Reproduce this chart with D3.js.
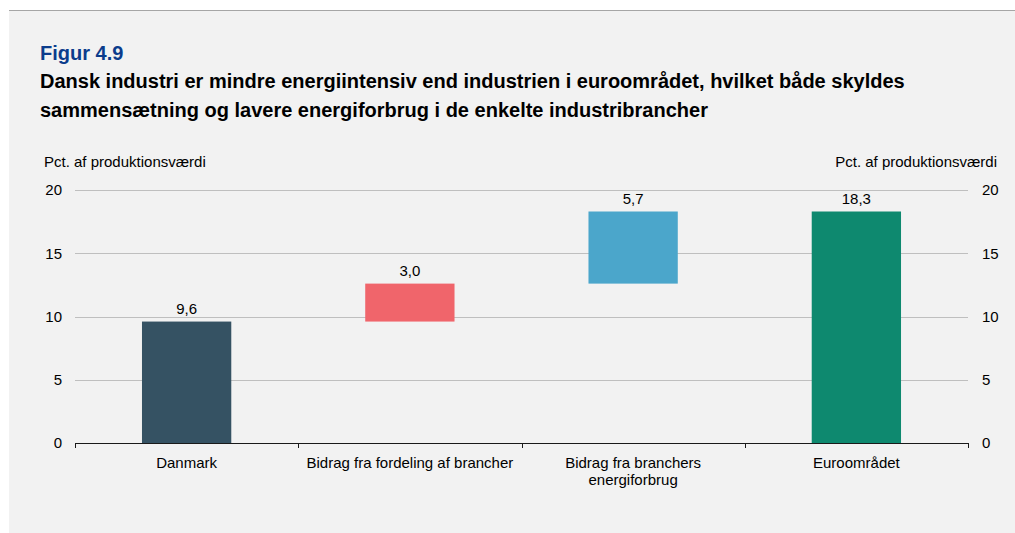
<!DOCTYPE html>
<html>
<head>
<meta charset="utf-8">
<script src="https://cdn.jsdelivr.net/npm/d3@7"></script>
<style>
  html, body { margin: 0; padding: 0; background: #ffffff; }
  svg { display: block; font-family: "Liberation Sans", Arial, sans-serif; }
</style>
</head>
<body>
<svg id="chart" width="1015" height="533"></svg>
<script>
// Waterfall: Danish industry energy intensity vs. euro area
const categories = ["Danmark", "Bidrag fra fordeling af brancher", "Bidrag fra branchers\nenergiforbrug", "Euroområdet"];
const values = [9.6, 3.0, 5.7, 18.3];
// "total" bars start from zero, "step" bars start where the previous one ended
const kinds = ["total", "step", "step", "total"];
const colors = ["#355263", "#f0656b", "#4ba6cb", "#0e896f"];
const yTicks = [0, 5, 10, 15, 20];
const unitLabel = "Pct. af produktionsværdi";
const figNumber = "Figur 4.9";
const titleLines = [
  "Dansk industri er mindre energiintensiv end industrien i euroområdet, hvilket både skyldes",
  "sammensætning og lavere energiforbrug i de enkelte industribrancher"
];

const svg = d3.select("#chart");

// panel background and top rule
svg.append("rect").attr("x", 9).attr("y", 10).attr("width", 1006).attr("height", 523).attr("fill", "#f2f2f2");
svg.append("line").attr("x1", 9).attr("x2", 1015).attr("y1", 10.5).attr("y2", 10.5)
  .attr("stroke", "#a6a6a6").attr("stroke-width", 1);

svg.append("text").attr("x", 40).attr("y", 60).attr("fill", "#0b3c8c")
  .attr("font-size", 20).attr("font-weight", "bold").text(figNumber);
titleLines.forEach((t, i) => {
  svg.append("text").attr("x", 40).attr("y", 88 + i * 28.5).attr("fill", "#000")
    .attr("font-size", 20).attr("font-weight", "bold").text(t);
});

const plotL = 75, plotR = 968, plotT = 190, plotB = 443;

const x = d3.scaleBand().domain(categories).range([plotL, plotR]).paddingInner(0.6).paddingOuter(0.3);
const xTickScale = d3.scaleBand().domain(categories).range([plotL, plotR]);
const y = d3.scaleLinear().domain([0, 20]).range([plotB, plotT]);

// compute waterfall spans
let running = 0;
const bars = categories.map((c, i) => {
  let y0, y1;
  if (kinds[i] === "total") { y0 = 0; y1 = values[i]; running = values[i]; }
  else { y0 = running; y1 = running + values[i]; running = y1; }
  return { c, v: values[i], y0, y1, color: colors[i] };
});

// gridlines
svg.append("g").selectAll("line").data(yTicks.filter(d => d !== 0)).join("line")
  .attr("x1", plotL).attr("x2", plotR)
  .attr("y1", d => Math.round(y(d)) + 0.5).attr("y2", d => Math.round(y(d)) + 0.5)
  .attr("stroke", "#bfbfbf").attr("stroke-width", 1);

// left and right tick labels
const fs = 15;
svg.append("g").selectAll("text").data(yTicks).join("text")
  .attr("x", 62).attr("y", d => y(d)).attr("dy", "0.35em").attr("text-anchor", "end")
  .attr("font-size", fs).attr("fill", "#000").text(d => d);
svg.append("g").selectAll("text").data(yTicks).join("text")
  .attr("x", 982).attr("y", d => y(d)).attr("dy", "0.35em").attr("text-anchor", "start")
  .attr("font-size", fs).attr("fill", "#000").text(d => d);

svg.append("text").attr("x", 44).attr("y", 167).attr("font-size", fs).attr("fill", "#000").text(unitLabel);
svg.append("text").attr("x", 997).attr("y", 167).attr("text-anchor", "end").attr("font-size", fs).attr("fill", "#000").text(unitLabel);

// bars
svg.append("g").selectAll("rect").data(bars).join("rect")
  .attr("x", d => x(d.c)).attr("width", x.bandwidth())
  .attr("y", d => y(d.y1)).attr("height", d => y(d.y0) - y(d.y1))
  .attr("fill", d => d.color);

// value labels
const fmt = v => d3.format(".1f")(v).replace(".", ",");
svg.append("g").selectAll("text").data(bars).join("text")
  .attr("x", d => x(d.c) + x.bandwidth() / 2).attr("y", d => y(d.y1) - 7.5)
  .attr("text-anchor", "middle").attr("font-size", fs).attr("fill", "#000")
  .text(d => fmt(d.v));

// x axis with category ticks at band edges
const axisG = svg.append("g");
axisG.append("line").attr("x1", plotL).attr("x2", plotR).attr("y1", plotB + 0.5).attr("y2", plotB + 0.5)
  .attr("stroke", "#1a1a1a").attr("stroke-width", 1);
const edges = categories.map(c => xTickScale(c)).concat([plotR]);
axisG.selectAll("line.tk").data(edges).join("line").attr("class", "tk")
  .attr("x1", d => Math.round(d) + 0.5).attr("x2", d => Math.round(d) + 0.5)
  .attr("y1", plotB).attr("y2", plotB + 5)
  .attr("stroke", "#1a1a1a").attr("stroke-width", 1);

const catLabels = axisG.selectAll("text.cat").data(categories).join("text").attr("class", "cat")
  .attr("x", d => xTickScale(d) + xTickScale.bandwidth() / 2).attr("y", 467.5)
  .attr("text-anchor", "middle").attr("font-size", fs).attr("fill", "#000");
catLabels.each(function(d) {
  const lines = d.split("\n");
  d3.select(this).selectAll("tspan").data(lines).join("tspan")
    .attr("x", xTickScale(d) + xTickScale.bandwidth() / 2)
    .attr("dy", (l, i) => i === 0 ? 0 : 17).text(l => l);
});
</script>
</body>
</html>
